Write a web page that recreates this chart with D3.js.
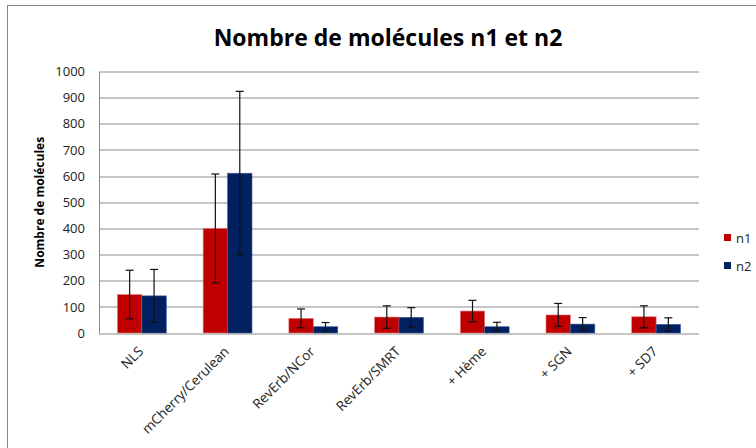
<!DOCTYPE html>
<html>
<head>
<meta charset="utf-8">
<script src="https://cdn.jsdelivr.net/npm/d3@7"></script>
<style>
  html, body { margin: 0; padding: 0; background: #fff; }
  svg { display: block; }
  text { font-family: "Open Sans", "DejaVu Sans", sans-serif; }
</style>
</head>
<body>
<svg id="chart" width="756" height="448"></svg>
<script>
// Conditions measured
const categories = ["NLS", "mCherry/Cerulean", "RevErb/NCor", "RevErb/SMRT", "+ Hème", "+ SGN", "+ SD7"];
// Mean number of molecules per series
const seriesNames = ["n1", "n2"];
const n1Values = [147, 400, 56, 61, 84, 69, 62];
const n2Values = [142, 611, 24, 60, 24, 34, 33];
// Error (± deviation) for each mean
const n1Errors = [93, 208, 36, 43, 41, 44, 42];
const n2Errors = [101, 313, 16, 37, 17, 25, 25];
// Y axis ticks
const yTicks = [0, 100, 200, 300, 400, 500, 600, 700, 800, 900, 1000];

const colors = { n1: "#C00000", n2: "#002060" };

const svg = d3.select("#chart");
const margin = { left: 99, right: 57, top: 71.5, bottom: 115 };
const W = 756, H = 448;
const plotW = W - margin.left - margin.right;
const plotH = H - margin.top - margin.bottom;

// chart outer border
svg.append("rect").attr("x", 7.5).attr("y", 5.5).attr("width", 760).attr("height", 460)
  .attr("fill", "#fff").attr("stroke", "#888").attr("stroke-width", 1);

const g = svg.append("g").attr("transform", `translate(${margin.left},${margin.top})`);

const x0 = d3.scaleBand().domain(categories).range([0, plotW]).paddingInner(0.43).paddingOuter(0.215);
const x1 = d3.scaleBand().domain(seriesNames).range([0, x0.bandwidth()]);
const y = d3.scaleLinear().domain([0, 1000]).range([plotH, 0]);

// horizontal gridlines
g.append("g").selectAll("line").data(yTicks.filter(d => d > 0)).join("line")
  .attr("x1", 0).attr("x2", plotW)
  .attr("y1", d => Math.round(y(d)) + 0.5).attr("y2", d => Math.round(y(d)) + 0.5)
  .attr("stroke", "#8c8c8c").attr("stroke-width", 1);

// y axis
const yAxis = g.append("g").call(d3.axisLeft(y).tickValues(yTicks).tickFormat(d3.format("d")).tickSize(0).tickPadding(14));
yAxis.select(".domain").attr("stroke", "#8c8c8c");
yAxis.selectAll("text").attr("font-size", 13).attr("fill", "#222");

// bottom axis line
g.append("line").attr("x1", 0).attr("x2", plotW)
  .attr("y1", Math.round(y(0)) + 0.5).attr("y2", Math.round(y(0)) + 0.5)
  .attr("stroke", "#8c8c8c");

const rows = categories.map((c, i) => ({
  cat: c,
  bars: [
    { key: "n1", value: n1Values[i], err: n1Errors[i] },
    { key: "n2", value: n2Values[i], err: n2Errors[i] }
  ]
}));

const groups = g.append("g").selectAll("g").data(rows).join("g")
  .attr("transform", d => `translate(${x0(d.cat)},0)`);

groups.selectAll("rect").data(d => d.bars).join("rect")
  .attr("x", d => x1(d.key)).attr("width", x1.bandwidth())
  .attr("y", d => y(d.value)).attr("height", d => y(0) - y(d.value))
  .attr("fill", d => colors[d.key])
  .attr("stroke", d => d.key === "n1" ? "#e08080" : "#4060a0").attr("stroke-width", 0.6);

// error bars
const eb = groups.selectAll("g.err").data(d => d.bars).join("g").attr("class", "err")
  .attr("transform", d => `translate(${x1(d.key) + x1.bandwidth() / 2},0)`);
eb.append("line").attr("x1", 0).attr("x2", 0)
  .attr("y1", d => y(d.value + d.err)).attr("y2", d => y(Math.max(0, d.value - d.err)))
  .attr("stroke", "#111").attr("stroke-width", 1.2);
eb.append("line").attr("x1", -4).attr("x2", 4)
  .attr("y1", d => y(d.value + d.err)).attr("y2", d => y(d.value + d.err))
  .attr("stroke", "#111").attr("stroke-width", 1.2);
eb.append("line").attr("x1", -4).attr("x2", 4)
  .attr("y1", d => y(Math.max(0, d.value - d.err))).attr("y2", d => y(Math.max(0, d.value - d.err)))
  .attr("stroke", "#111").attr("stroke-width", 1.2);

// category labels, rotated
g.append("g").selectAll("text").data(categories).join("text")
  .attr("transform", d => `translate(${x0(d) + x0.bandwidth() / 2 - 1},${plotH + 16}) rotate(-45)`)
  .attr("text-anchor", "end").attr("dy", "0.35em")
  .attr("font-size", 13.5).attr("fill", "#222")
  .text(d => d);

// title
svg.append("text").attr("x", 388).attr("y", 46).attr("text-anchor", "middle")
  .attr("font-size", 23).attr("font-weight", "bold").attr("fill", "#000")
  .text("Nombre de molécules n1 et n2");

// y axis title
svg.append("text").attr("transform", `translate(44,${margin.top + plotH / 2}) rotate(-90)`)
  .attr("text-anchor", "middle").attr("font-size", 12).attr("font-weight", "bold")
  .text("Nombre de molécules");

// legend
const leg = svg.append("g").selectAll("g").data(seriesNames).join("g")
  .attr("transform", (d, i) => `translate(724,${234 + i * 28})`);
leg.append("rect").attr("width", 7).attr("height", 7).attr("fill", d => colors[d]);
leg.append("text").attr("x", 12).attr("y", 8.5).attr("font-size", 13).attr("fill", "#222").text(d => d);
</script>
</body>
</html>
